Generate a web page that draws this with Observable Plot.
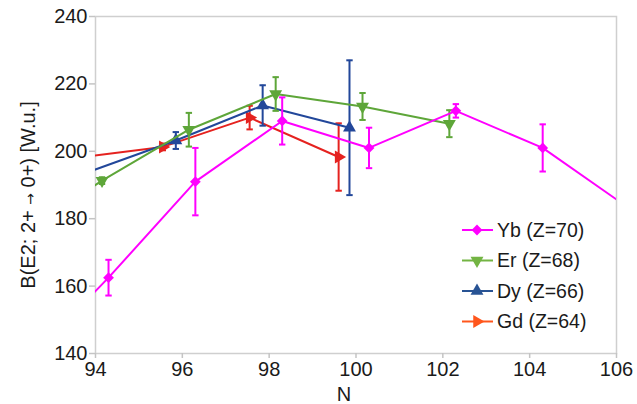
<!DOCTYPE html>
<html>
<head>
<meta charset="utf-8">
<script src="https://cdn.jsdelivr.net/npm/d3@7"></script>
<script src="https://cdn.jsdelivr.net/npm/@observablehq/plot@0.6"></script>
<style>
  body { margin: 0; background: #fff; font-family: "Liberation Sans", Arial, sans-serif; }
  #wrap { position: relative; width: 637px; height: 404px; }
  #legend { position: absolute; left: 455px; top: 214px; background: #fff; }
</style>
</head>
<body>
<div id="wrap"><div id="chart"></div><svg id="legend" width="140" height="122"></svg></div>
<script>
// ---- data ----
const series = ["Yb (Z=70)", "Er (Z=68)", "Dy (Z=66)", "Gd (Z=64)"];

const N_Yb = [92.3, 94.3, 96.3, 98.3, 100.3, 102.3, 104.3, 106.3];
const B_Yb = [136, 162.5, 191, 209, 201, 212, 201, 183];
const E_Yb = [null, 5.3, 10, 7, 6, 2, 7, null];

const N_Er = [92.15, 94.15, 96.15, 98.15, 100.15, 102.15];
const B_Er = [174, 191.3, 206.4, 217, 213.3, 208.2];
const E_Er = [null, 1, 5, 5, 4, 4];

const N_Dy = [93.85, 95.85, 97.85, 99.85];
const B_Dy = [193.9, 203.2, 213.6, 207];
const E_Dy = [null, 2.5, 6, 20];

const N_Gd = [93.55, 95.55, 97.55, 99.6];
const B_Gd = [198, 201.3, 210, 198.3];
const E_Gd = [null, 1, 3.5, 10];

const xTicks = [94, 96, 98, 100, 102, 104, 106];
const yTicks = [140, 160, 180, 200, 220, 240];
const xTitle = "N";
const yTitle = "B(E2; 2+ → 0+) [W.u.]";

// ---- styles ----
const colors = {"Yb (Z=70)": "#ff00ff", "Er (Z=68)": "#5ea639", "Dy (Z=66)": "#22479a", "Gd (Z=64)": "#e5221f"};
const legendColors = {"Yb (Z=70)": "#ff00ff", "Er (Z=68)": "#73b443", "Dy (Z=66)": "#285394", "Gd (Z=64)": "#ff561c"};
const symbols = {"Yb (Z=70)": ["square", 45, 4.3], "Er (Z=68)": ["triangle", 180, 4.8], "Dy (Z=66)": ["triangle", 0, 4.8], "Gd (Z=64)": ["triangle", 90, 4.8]};

const raw = {
  "Yb (Z=70)": [N_Yb, B_Yb, E_Yb],
  "Er (Z=68)": [N_Er, B_Er, E_Er],
  "Dy (Z=66)": [N_Dy, B_Dy, E_Dy],
  "Gd (Z=64)": [N_Gd, B_Gd, E_Gd]
};
const data = [];
for (const s of series) {
  const [N, B, E] = raw[s];
  N.forEach((n, i) => data.push({s, N: n, B: B[i], E: E[i]}));
}
const drawOrder = ["Gd (Z=64)", "Dy (Z=66)", "Er (Z=68)", "Yb (Z=70)"];

const cap = { draw(ctx, size) { ctx.moveTo(-3.2, 0); ctx.lineTo(3.2, 0); } };

const marks = [
  Plot.frame({stroke: "#cfcfcf", strokeWidth: 1.5}),
  Plot.axisX({ticks: xTicks, tickSize: 5, tickPadding: 3, fontSize: 20, label: null, stroke: "#c4c4c4", strokeWidth: 1.5, fill: "#1a1a1a"}),
  Plot.axisY({ticks: yTicks, tickSize: 6, tickPadding: 2, fontSize: 20, label: null, stroke: "#c4c4c4", strokeWidth: 1.5, fill: "#1a1a1a"}),
  Plot.text([xTitle], {frameAnchor: "bottom", lineAnchor: "bottom", dx: -12, dy: 47, fontSize: 20, fill: "#1a1a1a"}),
  Plot.text([yTitle], {frameAnchor: "left", textAnchor: "middle", dx: -67, dy: 10, rotate: -90, fontSize: 20, fill: "#1a1a1a", className: "ytitle"})
];
for (const s of drawOrder) {
  const d = data.filter(r => r.s === s);
  const de = d.filter(r => r.E != null);
  const c = colors[s];
  const [sym, rot, r] = symbols[s];
  marks.push(
    Plot.line(d, {x: "N", y: "B", stroke: c, strokeWidth: 2, clip: true}),
    Plot.ruleX(de, {x: "N", y1: r => r.B - r.E, y2: r => r.B + r.E, stroke: c, strokeWidth: 2, clip: true}),
    Plot.dot(de, {x: "N", y: r => r.B - r.E, symbol: cap, fill: "none", stroke: c, strokeWidth: 2, clip: true}),
    Plot.dot(de, {x: "N", y: r => r.B + r.E, symbol: cap, fill: "none", stroke: c, strokeWidth: 2, clip: true}),
    Plot.dot(de, {x: "N", y: "B", symbol: sym, rotate: rot, r, fill: c, stroke: "none", clip: true})
  );
}

const chart = Plot.plot({
  width: 637,
  height: 404,
  marginLeft: 95,
  marginRight: 21,
  marginTop: 16,
  marginBottom: 51,
  style: {fontFamily: "'Liberation Sans', Arial, sans-serif", background: "#fff"},
  x: {domain: [94, 106]},
  y: {domain: [140, 240]},
  marks
});
document.getElementById("chart").appendChild(chart);

// make the arrow in the y title small, as in the reference
d3.select(chart).selectAll(".ytitle text").each(function () {
  const t = d3.select(this);
  const parts = yTitle.split("→");
  t.text(null);
  t.append("tspan").text(parts[0]);
  t.append("tspan").attr("font-size", 14).attr("font-family", "DejaVu Sans").text("→");
  t.append("tspan").text(parts[1]);
});

// ---- legend ----
const lg = d3.select("#legend");
series.forEach((s, i) => {
  const y = 16 + i * 30.5;
  const [sym, rot, r] = symbols[s];
  const c = legendColors[s];
  const g = lg.append("g").attr("transform", `translate(0,${y})`);
  g.append("line").attr("x1", 7).attr("x2", 38).attr("y1", 0).attr("y2", 0).attr("stroke", c).attr("stroke-width", 2);
  const type = sym === "square" ? d3.symbolSquare : d3.symbolTriangle;
  g.append("path").attr("d", d3.symbol(type, Math.PI * r * r)())
    .attr("transform", `translate(22,0) rotate(${rot})`).attr("fill", c);
  g.append("text").attr("x", 42).attr("y", 0).attr("dy", "0.35em")
    .attr("font-size", 19.5).attr("fill", "#1a1a1a").text(s);
});
</script>
</body>
</html>
